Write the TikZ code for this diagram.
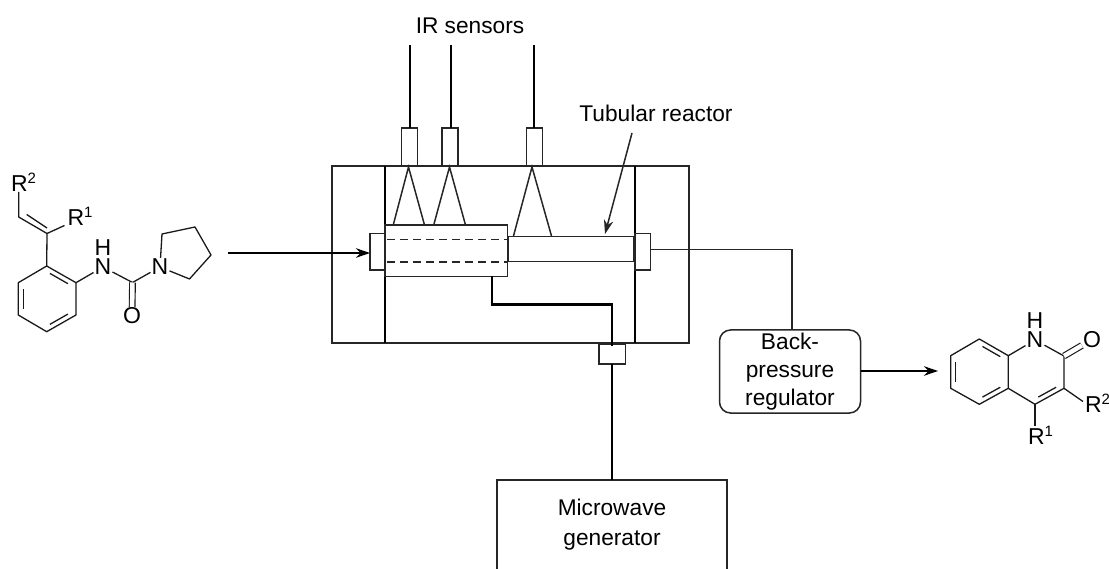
\documentclass[tikz,border=0pt]{standalone}
\usepackage{fontspec}
\setmainfont{Liberation Sans}
\usetikzlibrary{arrows.meta,calc}
\tikzset{
  thinl/.style={line width=1.5pt,draw=black!85},
  thickl/.style={line width=2.1pt,draw=black},
  boxn/.style={draw=black!85,line width=1.5pt,inner sep=0pt,outer sep=0pt,fill=white},
  lbl/.style={font=\fontsize{22.7}{27}\selectfont,align=center,inner sep=0pt},
  atom/.style={font=\fontsize{23}{27}\selectfont,inner sep=1.2pt,outer sep=0pt,text height=16pt,text depth=0pt},
  rgrp/.style={font=\fontsize{23}{27}\selectfont,inner sep=0pt,outer sep=0pt,anchor=base west},
  bond/.style={line width=1.3pt,draw=black!90},
  head/.style={-{Stealth[length=14pt,width=9.5pt]}},
}
\newcommand{\Rsup}[1]{R\raisebox{8pt}{\fontsize{15}{17}\selectfont #1}}
\newcommand{\inner}[3]{\draw[bond] ($(#1)!.13!(#2)!.17!(#3)$) -- ($(#2)!.13!(#1)!.17!(#3)$);}
\begin{document}
\begin{tikzpicture}[x=1pt,y=-1pt]
\useasboundingbox (0,0) rectangle (1109,569);
% reactor housing
\node[boxn,fill=none,minimum width=357pt,minimum height=177pt] (house) at (510.5,254.5) {};
\coordinate (wallLt) at (385,166); \coordinate (wallLb) at (385,343);
\coordinate (wallRt) at (635,166); \coordinate (wallRb) at (635,343);
\draw[thickl] (wallLt) -- (wallLb);
\draw[thickl] (wallRt) -- (wallRb);
% sensors
\node[boxn,minimum width=16pt,minimum height=37.5pt] (s1) at (409.5,146.7) {};
\node[boxn,minimum width=16pt,minimum height=37.5pt] (s2) at (450,146.7) {};
\node[boxn,minimum width=16pt,minimum height=37.5pt] (s3) at (534.5,146.7) {};
\coordinate (s1t) at (410,45); \coordinate (s2t) at (451,45); \coordinate (s3t) at (534,45);
\draw[thickl,line width=1.8pt] (s1t) -- (s1t|-s1.north);
\draw[thickl,line width=1.8pt] (s2t) -- (s2t|-s2.north);
\draw[thickl,line width=1.8pt] (s3t) -- (s3t|-s3.north);
% cones
\coordinate (a1) at (408.5,167); \coordinate (a1l) at (393.5,224); \coordinate (a1r) at (424.5,225);
\coordinate (a2) at (449.5,167); \coordinate (a2l) at (434,224); \coordinate (a2r) at (465.5,225);
\coordinate (a3) at (532,167); \coordinate (a3l) at (513.5,236); \coordinate (a3r) at (551.5,236);
\draw[thinl] (a1l) -- (a1) -- (a1r);
\draw[thinl] (a2l) -- (a2) -- (a2r);
\draw[thinl] (a3l) -- (a3) -- (a3r);
% cell and tube
\node[boxn,minimum width=125pt,minimum height=25pt] (tube) at (571,249) {};
\node[boxn,minimum width=122.5pt,minimum height=51.5pt] (cell) at (446.2,250.7) {};
\coordinate (d1l) at (387,239.5); \coordinate (d1r) at (507,239.5);
\coordinate (d2l) at (387,262); \coordinate (d2r) at (507,262);
\draw[thinl,dash pattern=on 8pt off 5pt] (d1l) -- (d1r);
\draw[thinl,dash pattern=on 8pt off 5pt] (d2l) -- (d2r);
\node[boxn,minimum width=15pt,minimum height=36.5pt] (inlet) at (377.5,251.7) {};
\node[boxn,minimum width=15.5pt,minimum height=36.5pt] (outlet) at (642.7,251.7) {};
% feed arrow
\coordinate (feed) at (228,253);
\draw[thickl,line width=1.7pt,head] (feed) -- (feed-|inlet.west);
% tubular reactor label
\node[lbl] (tublab) at (656,113) {Tubular reactor};
\coordinate (tubs) at (632,133); \coordinate (tubh) at (605,234);
\draw[thinl,head] (tubs) -- (tubh);
\node[lbl] (irlab) at (470,26) {IR sensors};
% microwave line
\node[boxn,minimum width=26.5pt,minimum height=19.5pt] (port) at (612.2,354.2) {};
\coordinate (mwa) at (492,276.5); \coordinate (mwb) at (492,304.5); \coordinate (mwc) at (612,304.5);
\draw[thickl] (mwa) -- (mwb) -- (mwc) -- ($(mwc|-port.north)+(0,2)$);
\node[lbl,minimum width=230pt,minimum height=89pt] (mw) at (612,524.5) {Microwave\\[3pt]generator};
\draw[thinl] (mw.south west) -- (mw.north west) -- (mw.north east) -- (mw.south east);
\draw[thickl] (port.south-|mwc) -- (mw.north-|mwc);
% back-pressure regulator
\node[boxn,rounded corners=11pt,lbl,minimum width=141pt,minimum height=83pt] (bpr) at (790,371.5) {Back-\\[1pt]pressure\\[1pt]regulator};
\coordinate (bend) at (792,249.5);
\draw[thinl] (outlet.east|-bend) -- (bend) -- (bpr.north-|bend);
\coordinate (prod) at (938,371);
\draw[thickl,line width=1.7pt,head] (bpr.east|-prod) -- (prod);
% substrate
\coordinate (l1) at (46.7,266); \coordinate (l2) at (76,282.7); \coordinate (l3) at (76,315);
\coordinate (l4) at (46.7,331.7); \coordinate (l5) at (18.3,315); \coordinate (l6) at (18.3,282.7);
\coordinate (lc) at (47,299);
\draw[bond,line join=round] (l1) -- (l2) -- (l3) -- (l4) -- (l5) -- (l6) -- cycle;
\inner{l1}{l2}{lc} \inner{l3}{l4}{lc} \inner{l5}{l6}{lc}
\coordinate (vc) at (47,233.5); \coordinate (vh) at (18.7,217);
\node[rgrp] (lR2) at (11,192) {\Rsup{2}};
\node[rgrp] (lR1) at (67.5,225.5) {\Rsup{1}};
\draw[bond] (l1) -- (vc) -- (vh) -- (vh|-lR2.south);
\draw[bond] ($(vh)+(8,-2.5)$) -- ($(vc)+(0,-5.5)$);
\draw[bond] (vc) -- ($(lR1.south west)+(-3,0)$);
\node[atom] (lN) at (103,267) {N};
\node[atom] (lH) at (103,247.5) {H};
\coordinate (lC) at (132.5,282.5);
\node[atom] (lO) at (132,316) {O};
\node[atom] (lN2) at (160,267) {N};
\coordinate (p1) at (162,234); \coordinate (p2) at (195,227); \coordinate (p3) at (211,255); \coordinate (p4) at (189.5,279);
\draw[bond] (l2) -- (lN) -- (lC) -- (lN2);
\draw[bond,double,double distance=4.5pt,line width=1.15pt] (lC) -- (lO);
\draw[bond,line join=round] (lN2) -- (p1) -- (p2) -- (p3) -- (p4) -- (lN2);
% product
\coordinate (r1) at (979.3,339); \coordinate (r2) at (1008.3,355.7); \coordinate (r3) at (1008.3,388.3);
\coordinate (r4) at (979.3,404.3); \coordinate (r5) at (950.7,388.3); \coordinate (r6) at (950.7,355.7);
\coordinate (rc) at (979.5,372);
\draw[bond,line join=round] (r1) -- (r2) -- (r3) -- (r4) -- (r5) -- (r6) -- cycle;
\inner{r1}{r2}{rc} \inner{r3}{r4}{rc} \inner{r5}{r6}{rc}
\node[atom] (rN) at (1035,340) {N};
\node[atom] (rH) at (1035,320.5) {H};
\coordinate (rC) at (1064,356); \coordinate (rC3) at (1064,388.3); \coordinate (rC4) at (1035,404.3);
\coordinate (rc2) at (1036,372);
\node[atom] (rO) at (1092,339.5) {O};
\node[rgrp] (rR2) at (1085,412) {\Rsup{2}};
\node[rgrp] (rR1) at (1028,444) {\Rsup{1}};
\draw[bond] (r2) -- (rN) -- (rC) -- (rC3) -- (rC4) -- (r3);
\inner{rC3}{rC4}{rc2}
\draw[bond,double,double distance=4.5pt,line width=1.15pt] (rC) -- (rO);
\draw[bond] (rC3) -- ($(rR2.north west)+(-2,8)$);
\draw[bond] (rC4) -- (rC4|-rR1.north);
\end{tikzpicture}
\end{document}
